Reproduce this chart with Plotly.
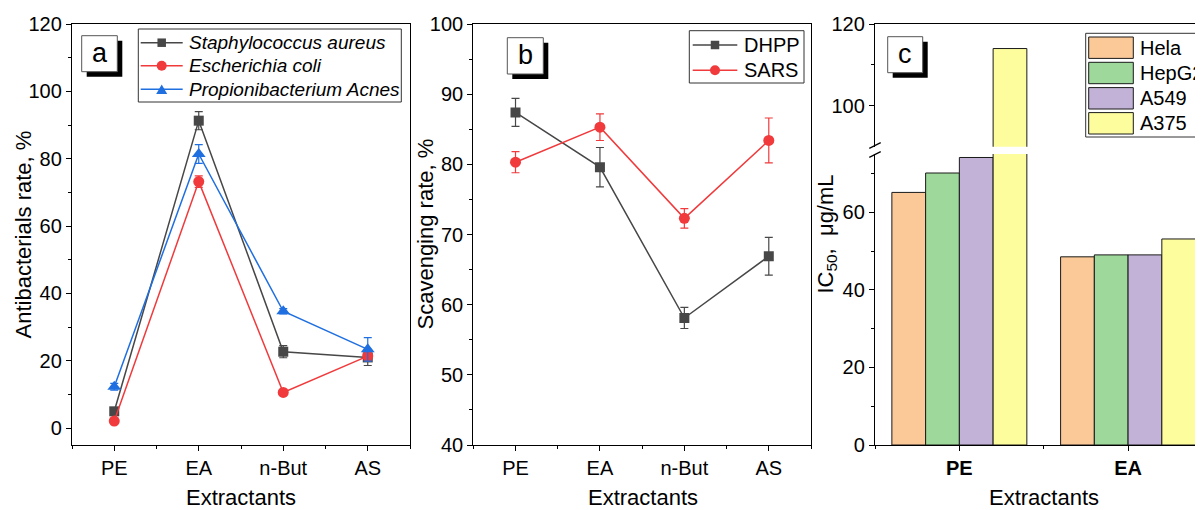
import plotly.graph_objects as go

# ---------------- data ----------------
categories = ["PE", "EA", "n-But", "AS"]

sa = [5.0, 91.3, 22.7, 21.0]
sa_err = [1.0, 2.7, 1.8, 2.4]
ec = [2.1, 73.2, 10.6, 21.4]
ec_err = [0.6, 1.7, 0.6, 1.2]
pa = [12.3, 81.4, 34.7, 23.4]
pa_err = [1.0, 2.8, 0.8, 3.5]

dhpp = [87.4, 79.6, 58.1, 66.9]
dhpp_err = [2.0, 2.8, 1.5, 2.7]
sars = [80.3, 85.3, 72.3, 83.4]
sars_err = [1.5, 1.9, 1.4, 3.2]

ic_groups = ["PE", "EA"]
cell_lines = ["Hela", "HepG2", "A549", "A375"]
hela = [65.1, 48.5]
hepg2 = [70.1, 49.0]
a549 = [74.1, 49.0]
a375 = [114.0, 53.1]

# ---------------- helpers ----------------
# page body has an 8px margin, so the figure is placed at (8, 8) in the window
OFF = 8
W, H = 1203 - OFF, 510 - OFF
FONT = "Liberation Sans, Arial, sans-serif"


def px(x):
    return (x - OFF) / W


def py(y):
    return 1 - (y - OFF) / H


GRAY = "#474747"
RED = "#F03A3C"
BLUE = "#1F6FE0"
bar_colors = ["#FBC897", "#9ED89A", "#C3B2D7", "#FDFD9E"]

xi = list(range(len(categories)))
gi = list(range(len(ic_groups)))

fig = go.Figure()


def line_trace(y, err, name, color, symbol, size, xa, ya):
    return go.Scatter(
        x=xi, y=y, name=name, mode="lines+markers", showlegend=False,
        line=dict(color=color, width=1.5),
        marker=dict(color=color, symbol=symbol, size=size),
        error_y=dict(type="data", array=err, visible=True, color=color,
                     thickness=1.2, width=4),
        xaxis=xa, yaxis=ya,
    )


# panel a
fig.add_trace(line_trace(sa, sa_err, "Staphylococcus aureus", GRAY, "square", 10, "x", "y"))
fig.add_trace(line_trace(ec, ec_err, "Escherichia coli", RED, "circle", 11, "x", "y"))
fig.add_trace(line_trace(pa, pa_err, "Propionibacterium Acnes", BLUE, "triangle-up", 12, "x", "y"))

# panel b
fig.add_trace(line_trace(dhpp, dhpp_err, "DHPP", GRAY, "square", 10, "x2", "y2"))
fig.add_trace(line_trace(sars, sars_err, "SARS", RED, "circle", 11, "x2", "y2"))

# panel c (broken axis: lower and upper segment)
series_c = [hela, hepg2, a549, a375]
for name, vals, col in zip(cell_lines, series_c, bar_colors):
    for xa, ya in (("x3", "y3"), ("x4", "y4")):
        fig.add_trace(go.Bar(
            x=gi, y=vals, name=name, showlegend=False,
            marker=dict(color=col, line=dict(color="#1a1a1a", width=1)),
            xaxis=xa, yaxis=ya,
        ))

# ---------------- axes ----------------
y_dom = [py(445), py(24)]
tickfont = dict(family=FONT, size=20, color="black")
common = dict(showline=True, linecolor="black", linewidth=1.3, ticks="outside",
              tickcolor="black", tickwidth=1.3, ticklen=5, showgrid=False,
              zeroline=False, tickfont=tickfont, automargin=False)

xa_common = dict(common, range=[-0.5, 3.5], tickvals=xi, ticktext=categories,
                 minor=dict(tickvals=[-0.5, 0.5, 1.5, 2.5, 3.5], ticklen=3,
                            tickcolor="black", ticks="outside", showgrid=False))

fig.update_layout(
    xaxis=dict(xa_common, domain=[px(72), px(410)], anchor="y", mirror=True),
    yaxis=dict(common, domain=y_dom, anchor="x", range=[-5, 120], tick0=0, dtick=20,
               mirror=True, minor=dict(dtick=10, ticklen=3, ticks="outside",
                                        tickcolor="black", showgrid=False)),
    xaxis2=dict(xa_common, domain=[px(473.3), px(811)], anchor="y2", mirror=True),
    yaxis2=dict(common, domain=y_dom, anchor="x2", range=[40, 100], tick0=40, dtick=10,
                mirror=True, minor=dict(dtick=5, ticklen=3, ticks="outside",
                                         tickcolor="black", showgrid=False)),
    xaxis3=dict(common, domain=[px(875), 1], anchor="y3", range=[-0.5, 1.444],
                tickvals=gi, ticktext=["<b>%s</b>" % g for g in ic_groups],
                minor=dict(tickvals=[-0.5, 0.5, 1.5], ticklen=3, ticks="outside",
                           tickcolor="black", showgrid=False)),
    yaxis3=dict(common, domain=[py(445), py(154)], anchor="x3", range=[0, 75],
                tick0=0, dtick=20,
                minor=dict(dtick=10, ticklen=3, ticks="outside", tickcolor="black",
                           showgrid=False)),
    xaxis4=dict(domain=[px(875), 1], anchor="y4", matches="x3", side="top",
                showline=True, linecolor="black", linewidth=1.3, ticks="",
                showticklabels=False, showgrid=False, zeroline=False, automargin=False),
    yaxis4=dict(common, domain=[py(146.7), py(24)], anchor="x4", range=[90, 120],
                tickvals=[100, 120],
                minor=dict(tickvals=[110], ticklen=3, ticks="outside",
                           tickcolor="black", showgrid=False)),
    barmode="group", bargap=0.2, bargroupgap=0,
)

shapes = []
annotations = []


def rect(x0, y0, x1, y1, fill, line_color=None, lw=1):
    return dict(type="rect", xref="paper", yref="paper",
                x0=px(x0), x1=px(x1), y0=py(y1), y1=py(y0),
                line=dict(color=line_color or fill, width=lw if line_color else 0),
                fillcolor=fill, layer="above")


def text(t, x, y, size, xanchor="left", angle=0, italic=False):
    return dict(text=t, xref="paper", yref="paper", x=px(x), y=py(y),
                xanchor=xanchor, yanchor="middle", textangle=angle, showarrow=False,
                font=dict(family=FONT, size=size, color="black",
                          style="italic" if italic else "normal"))


def marker_shape(kind, cx, cy, color, s):
    if kind == "square":
        return rect(cx - s / 2, cy - s / 2, cx + s / 2, cy + s / 2, color)
    if kind == "circle":
        return dict(type="circle", xref="paper", yref="paper",
                    x0=px(cx - s / 2), x1=px(cx + s / 2),
                    y0=py(cy + s / 2), y1=py(cy - s / 2),
                    line=dict(width=0), fillcolor=color, layer="above")
    # triangle
    h = s * 0.87
    path = "M %f %f L %f %f L %f %f Z" % (px(cx - s / 2), py(cy + h / 2),
                                          px(cx + s / 2), py(cy + h / 2),
                                          px(cx), py(cy - h / 2))
    return dict(type="path", xref="paper", yref="paper", path=path,
                line=dict(width=0), fillcolor=color, layer="above")


def line_legend(box, rows, x0, x1, xt, entries, size, italic):
    shapes.append(rect(*box, "white", "#333", 1))
    for ry, (name, color, kind, ms) in zip(rows, entries):
        shapes.append(dict(type="line", xref="paper", yref="paper",
                           x0=px(x0), x1=px(x1), y0=py(ry), y1=py(ry),
                           line=dict(color=color, width=1.5), layer="above"))
        shapes.append(marker_shape(kind, (x0 + x1) / 2, ry, color, ms))
        annotations.append(text(name, xt, ry, size, italic=italic))


# legend a
line_legend((138.3, 29, 401.3, 102), [42.7, 65.7, 89.3], 140.7, 182.7, 187.0,
            [("Staphylococcus aureus", GRAY, "square", 8.5),
             ("Escherichia coli", RED, "circle", 10),
             ("Propionibacterium Acnes", BLUE, "triangle", 11)], 19, True)

# legend b
line_legend((689.3, 30.7, 804, 83), [45, 70.3], 692.7, 737.3, 742,
            [("DHPP", GRAY, "square", 8.5), ("SARS", RED, "circle", 10)], 20, False)

# legend c
shapes.append(rect(1085.7, 33.3, 1215, 137, "white", "#333", 1))
rows_c = [47.7, 73.0, 98.3, 123.3]
for name, col, ry in zip(cell_lines, bar_colors, rows_c):
    shapes.append(rect(1088.7, ry - 10.7, 1133.3, ry + 10.7, col, "#1a1a1a", 1))
    annotations.append(text(name, 1137.5, ry, 20))

# panel labels (boxes with shadow)
for label, (x0, y0, x1, y1) in zip(["a", "b", "c"],
                                    [(81.7, 35.7, 117.3, 71.7),
                                     (507.3, 37.7, 543.3, 74.0),
                                     (887.7, 36.7, 922.7, 72.7)]):
    shapes.append(rect(x0 + 5, y0 + 5, x1 + 5, y1 + 5, "black"))
    shapes.append(rect(x0, y0, x1, y1, "white", "#555", 1))
    annotations.append(text(label, (x0 + x1) / 2, (y0 + y1) / 2 - 1, 27, xanchor="center"))

# axis break marks
for yb in (148.3, 157.3):
    shapes.append(dict(type="line", xref="paper", yref="paper",
                       x0=px(869.3), x1=px(880.7), y0=py(yb), y1=py(yb - 5.6),
                       line=dict(color="black", width=1.3)))

# axis titles
for t, x, y, ang in [
    ("Antibacterials rate, %", 23, 234.5, -90),
    ("Scavenging rate, %", 425, 234.5, -90),
    ("IC<sub>50</sub>,  \u03bcg/mL", 826, 234.5, -90),
    ("Extractants", 241, 497, 0),
    ("Extractants", 642.5, 497, 0),
    ("Extractants", 1044, 497, 0),
]:
    annotations.append(text(t, x, y, 22, xanchor="center", angle=ang))

fig.update_layout(
    width=W, height=H,
    margin=dict(l=0, r=0, t=0, b=0, autoexpand=False),
    paper_bgcolor="white", plot_bgcolor="white",
    font=dict(family=FONT, color="black"),
    shapes=shapes, annotations=annotations,
)

fig.write_html("out.html")
